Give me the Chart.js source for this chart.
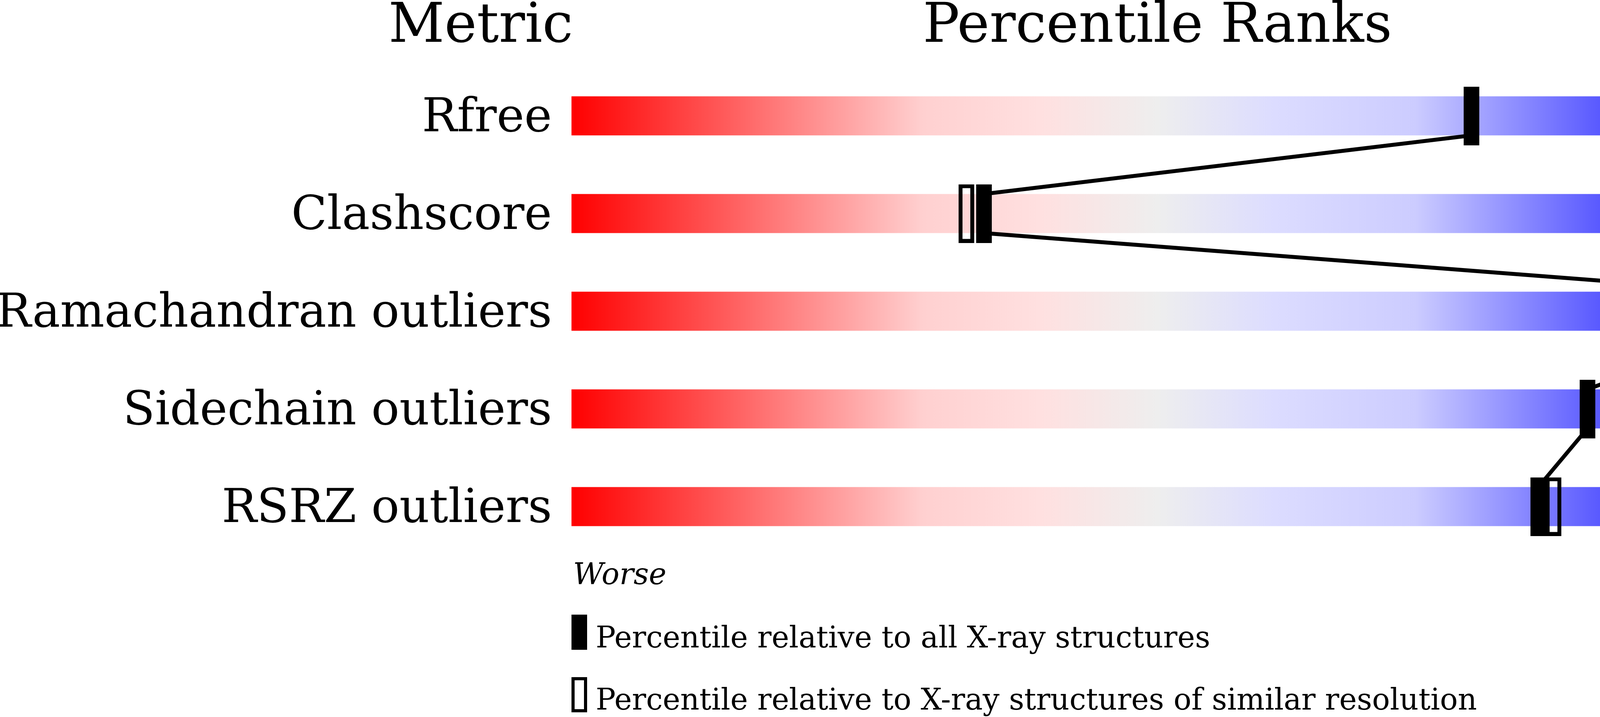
<!DOCTYPE html>
<html>
<head>
<meta charset="utf-8">
<title>Percentile Ranks</title>
<script src="https://cdn.jsdelivr.net/npm/chart.js@4/dist/chart.umd.min.js"></script>
<style>
  html, body { margin: 0; padding: 0; background: #fff; }
  #wrap { width: 4860px; height: 1835px; position: relative; }
</style>
</head>
<body>
<div id="wrap"><canvas id="chart"></canvas></div>
<script>
// Validation slider data
const metrics = ['Rfree', 'Clashscore', 'Ramachandran outliers', 'Sidechain outliers', 'RSRZ outliers'];
const valueLabels = ['0.214', '7', '0', '0.5%', '0.8%'];
const pctAll = [76.8, 35.2, 100, 86.7, 82.5];      // filled marker: all X-ray structures
const pctSimilar = [89.2, 33.7, 100, 91.0, 83.8];  // open marker: similar resolution
const fullScale = [100, 100, 100, 100, 100];       // the slider background runs 0..100

const headers = ['Metric', 'Percentile Ranks', 'Value'];
const endLabels = ['Worse', 'Better'];
const legendLabels = [
  'Percentile relative to all X-ray structures',
  'Percentile relative to X-ray structures of similar resolution'
];

const SERIF = "'DejaVu Serif', serif";
const BAR_FRACTION = 0.4; // slider height as a share of the row pitch

// red -> pale -> grey -> pale -> blue
const gradientStops = [
  [0, '#ff0000'],
  [0.30, '#ffd0d0'],
  [0.40, '#ffe0e0'],
  [0.50, '#eeeeee'],
  [0.60, '#dcdcff'],
  [0.72, '#ccccff'],
  [1, '#0000ff']
];

function makeMarker(filled, w, h, lw) {
  const c = document.createElement('canvas');
  c.width = w;
  c.height = h;
  const g = c.getContext('2d');
  if (filled) {
    g.fillStyle = '#000';
    g.fillRect(0, 0, w, h);
  } else {
    g.strokeStyle = '#000';
    g.lineWidth = lw;
    g.strokeRect(lw / 2, lw / 2, w - lw, h - lw);
  }
  return c;
}

const filledMarker = makeMarker(true, 40, 150);
const openMarker = makeMarker(false, 40, 150, 10);
const filledKey = makeMarker(true, 40, 90);
const openKey = makeMarker(false, 40, 90, 8);

// connector runs from the bottom of one slider to the top of the next
const connector = [];
pctAll.forEach((v, i) => {
  if (i > 0) connector.push({ x: v, y: i - BAR_FRACTION / 2 });
  if (i < pctAll.length - 1) connector.push({ x: v, y: i + BAR_FRACTION / 2 });
});

let gradientCache = null;
function sliderGradient(context) {
  const { chart } = context;
  const area = chart.chartArea;
  if (!area) return '#eeeeee';
  if (gradientCache && gradientCache.left === area.left && gradientCache.right === area.right) {
    return gradientCache.fill;
  }
  const x = chart.scales.x;
  const grad = chart.ctx.createLinearGradient(x.getPixelForValue(0), 0, x.getPixelForValue(100), 0);
  gradientStops.forEach(([pos, col]) => grad.addColorStop(pos, col));
  gradientCache = { left: area.left, right: area.right, fill: grad };
  return grad;
}

const rowTicks = (scale) => { scale.ticks = metrics.map((_, i) => ({ value: i })); };

// fixed side columns; drop the label overhang padding chart.js adds
const sideFit = (width) => (scale) => {
  scale.width = width;
  scale.paddingTop = 0;
  scale.paddingBottom = 0;
  scale.paddingLeft = 0;
  scale.paddingRight = 0;
};

// Headers, Worse/Better and the marker key
const sliderText = {
  id: 'sliderText',
  afterDraw(chart) {
    const { ctx } = chart;
    const x = chart.scales.x;
    const x0 = x.getPixelForValue(0);
    const x100 = x.getPixelForValue(100);
    ctx.save();
    ctx.fillStyle = '#000';
    ctx.textBaseline = 'alphabetic';

    ctx.font = `140px ${SERIF}`;
    ctx.textAlign = 'right';
    ctx.fillText(headers[0], x0 + 4, 107);
    ctx.textAlign = 'center';
    ctx.fillText(headers[1], x.getPixelForValue(50), 107);
    ctx.textAlign = 'left';
    ctx.fillText(headers[2], x100, 107);

    ctx.font = `italic 76px ${SERIF}`;
    ctx.textAlign = 'left';
    ctx.fillText(endLabels[0], x0 + 4, 1495);
    ctx.textAlign = 'right';
    ctx.fillText(endLabels[1], x100, 1495);

    ctx.font = `76px ${SERIF}`;
    ctx.textAlign = 'left';
    ctx.drawImage(filledKey, x0, 1573);
    ctx.fillText(legendLabels[0], x0 + 62, 1657);
    ctx.drawImage(openKey, x0, 1733);
    ctx.fillText(legendLabels[1], x0 + 62, 1816);
    ctx.restore();
  }
};

Chart.defaults.color = '#000';
Chart.defaults.font.family = SERIF;

const rowAxis = (position, labels, width, padding) => ({
  type: 'linear',
  position,
  reverse: true,
  offset: false,
  min: -0.5,
  max: 4.5,
  afterBuildTicks: rowTicks,
  afterFit: sideFit(width),
  grid: { display: false, drawTicks: false },
  border: { display: false },
  ticks: {
    callback: (v) => labels[v],
    font: { family: SERIF, size: 119.5 },
    color: '#000',
    padding,
    labelOffset: 8
  }
});

new Chart(document.getElementById('chart'), {
  type: 'bar',
  data: {
    datasets: [
      {
        type: 'scatter',
        label: 'All X-ray structures',
        data: pctAll.map((v, i) => ({ x: v, y: i })),
        pointStyle: filledMarker,
        pointRadius: 20,
        clip: false,
        order: 1
      },
      {
        type: 'scatter',
        label: 'Similar resolution',
        data: pctSimilar.map((v, i) => ({ x: v, y: i })),
        pointStyle: openMarker,
        pointRadius: 20,
        clip: false,
        order: 2
      },
      {
        type: 'line',
        label: 'connector',
        data: connector,
        borderColor: '#000',
        borderWidth: 10,
        pointRadius: 0,
        tension: 0,
        fill: false,
        clip: false,
        order: 3
      },
      {
        type: 'bar',
        label: 'slider',
        indexAxis: 'y',
        data: fullScale.map((v, i) => ({ x: v, y: i })),
        backgroundColor: sliderGradient,
        borderWidth: 0,
        categoryPercentage: 1,
        barPercentage: BAR_FRACTION,
        order: 4
      }
    ]
  },
  options: {
    responsive: true,
    maintainAspectRatio: false,
    animation: false,
    events: [],
    layout: { autoPadding: false, padding: { top: 171.5, bottom: 413.5, left: 0, right: 0 } },
    plugins: {
      legend: { display: false },
      tooltip: { enabled: false }
    },
    scales: {
      x: { type: 'linear', min: 0, max: 100, display: false, offset: false },
      y: rowAxis('left', metrics, 1463, 50),
      y2: rowAxis('right', valueLabels, 397, 58)
    }
  },
  plugins: [sliderText]
});
</script>
</body>
</html>
